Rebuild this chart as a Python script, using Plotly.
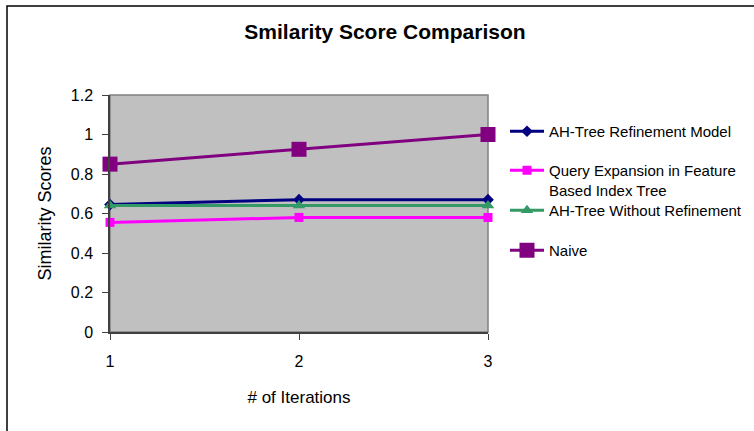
import plotly.graph_objects as go

iterations = [1, 2, 3]
ah_refine = [0.645, 0.67, 0.67]
query_exp = [0.555, 0.58, 0.58]
ah_no_refine = [0.64, 0.64, 0.64]
naive = [0.85, 0.925, 1.0]

series_names = ["AH-Tree Refinement Model",
                "Query Expansion in Feature<br>Based Index Tree",
                "AH-Tree Without Refinement",
                "Naive"]
y_ticks = [0, 0.2, 0.4, 0.6, 0.8, 1, 1.2]
y_tick_text = ["0", "0.2", "0.4", "0.6", "0.8", "1", "1.2"]

styles = [
    dict(color="#000080", symbol="diamond", size=9),
    dict(color="#FF00FF", symbol="square", size=9),
    dict(color="#339966", symbol="triangle-up", size=11),
    dict(color="#800080", symbol="square", size=15),
]
data = [ah_refine, query_exp, ah_no_refine, naive]
legend_ids = ["legend", "legend2", "legend3", "legend4"]
legend_marker_px = [131, 170, 210, 250]

W, H = 754, 431
PL, PT, PW, PH = 110, 95, 378, 237

fig = go.Figure()
for i, (name, vals, st) in enumerate(zip(series_names, data, styles)):
    fig.add_trace(go.Scatter(
        x=iterations, y=vals, name=name, mode="lines+markers",
        line=dict(color=st["color"], width=3),
        marker=dict(color=st["color"], symbol=st["symbol"], size=st["size"]),
        cliponaxis=False, legend=legend_ids[i],
    ))

legend_layout = {}
for lid, py in zip(legend_ids, legend_marker_px):
    legend_layout[lid] = dict(
        x=(505 - PL) / PW, xanchor="left", y=1 - (py - 16 - PT) / PH, yanchor="top",
        font=dict(size=15), bgcolor="rgba(0,0,0,0)", itemwidth=34, valign="top")

fig.update_layout(
    width=W, height=H,
    margin=dict(l=PL, r=W - PL - PW, t=PT, b=H - PT - PH, autoexpand=False),
    paper_bgcolor="white", plot_bgcolor="#C0C0C0",
    font=dict(family="Liberation Sans, Arial, sans-serif", color="black", size=16),
    title=dict(text="<b>Smilarity Score Comparison</b>", x=385 / W, xanchor="center",
               y=1 - 32 / H, yanchor="middle", font=dict(size=21)),
    showlegend=True,
    xaxis=dict(range=[1, 3], tickvals=iterations, ticktext=["1", "2", "3"],
               showgrid=False, zeroline=False, showline=True, linecolor="#404040",
               linewidth=1.5, mirror=False, ticks="outside", ticklen=6, tickcolor="#404040",
               ticklabelstandoff=8,
               title=dict(text="# of Iterations", standoff=22, font=dict(size=17)),
               tickfont=dict(size=16)),
    yaxis=dict(range=[0, 1.2], tickvals=y_ticks, ticktext=y_tick_text,
               showgrid=False, zeroline=False, showline=True, linecolor="#404040",
               linewidth=1.5, ticks="outside", ticklen=6, tickcolor="#404040",
               ticklabelstandoff=6,
               title=dict(text="Similarity Scores", standoff=14, font=dict(size=18)),
               tickfont=dict(size=16)),
    **legend_layout,
)
# plot area border (top/right)
fig.add_shape(type="rect", xref="x domain", yref="y domain", x0=0, y0=0, x1=1, y1=1,
              line=dict(color="#808080", width=1.5), layer="below")
# outer chart frame
fig.add_shape(type="rect", xref="paper", yref="paper",
              x0=(7 - PL) / PW, x1=(760 - PL) / PW,
              y0=1 - (440 - PT) / PH, y1=1 + (PT - 6) / PH,
              line=dict(color="black", width=1.5))

fig.write_html("out.html")
